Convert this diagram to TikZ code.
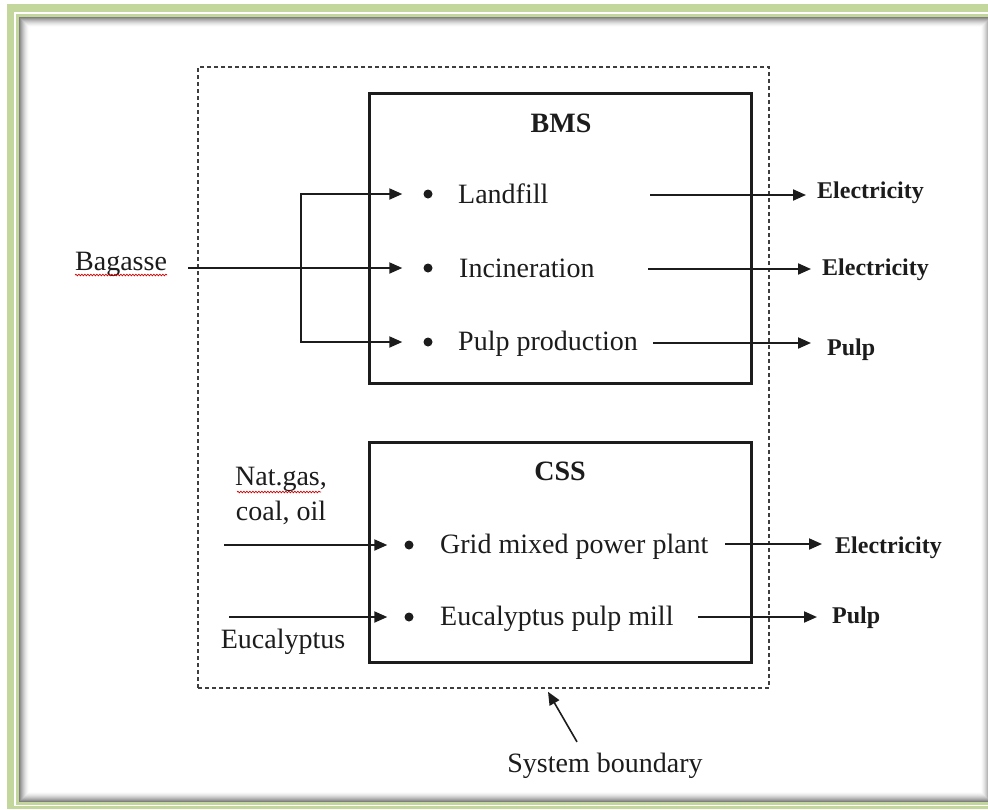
\documentclass[tikz,border=0pt]{standalone}
\usepackage{fontspec}
\setmainfont{Liberation Serif}
\usetikzlibrary{arrows.meta,decorations.pathmorphing}
\definecolor{frameg}{RGB}{195,214,155}
\definecolor{ink}{RGB}{28,28,28}
\begin{document}
\begin{tikzpicture}[x=1pt,y=-1pt,
  conn/.style={draw=ink, line width=2pt, -{Triangle[length=13pt,width=11pt]}},
  procbox/.style={draw=ink, line width=3pt, inner sep=0pt},
  bound/.style={draw=ink!85, line width=1.5pt, dash pattern=on 4pt off 3pt, inner sep=0pt},
  bul/.style={circle, fill=ink, inner sep=0pt, minimum size=9pt},
  lbl/.style={inner sep=0pt, anchor=base west, text=ink, font=\fontsize{28}{34}\selectfont},
  outlbl/.style={inner sep=0pt, anchor=base west, text=ink, font=\bfseries\fontsize{24}{28}\selectfont},
  ttl/.style={inner sep=0pt, anchor=base, text=ink, font=\bfseries\fontsize{28}{34}\selectfont},
  squig/.style={draw=red!80!black, line width=0.7pt, decorate, decoration={snake, amplitude=0.8pt, segment length=3pt}}
]
\useasboundingbox (0,0) rectangle (988,809);
\clip (0,0) rectangle (988,809);
\fill[white] (0,0) rectangle (988,809);
% frame (right side runs past the picture edge)
\fill[frameg] (7,4) rectangle (988,809);
\fill[white] (14,12) rectangle (988,806);
\fill[frameg] (16,14) rectangle (988,805);
\fill[white] (19,17) rectangle (988,802);
\foreach \i in {0,...,9}{
  \pgfmathsetmacro{\op}{0.5*(1-\i/10)^1.6}
  \draw[black, opacity=\op, line width=1pt] (19+\i+0.5,17+\i+0.5) rectangle (991-\i-0.5,802-\i-0.5);
}
% system boundary
\node[bound, minimum width=571pt, minimum height=621pt] (sys) at (483.5,377.5) {};
% process boxes
\node[procbox, minimum width=382pt, minimum height=290pt] (bms) at (560,238) {};
\node[procbox, minimum width=382pt, minimum height=220pt] (css) at (560,552) {};
\node[ttl] (bmst) at (561,132) {BMS};
\node[ttl] (csst) at (560,480) {CSS};
% BMS items
\node[bul] (b1) at (428,194) {};
\node[bul] (b2) at (428,268) {};
\node[bul] (b3) at (428,342) {};
\node[lbl] (l1) at (458,203) {Landfill};
\node[lbl] (l2) at (459,277) {Incineration};
\node[lbl] (l3) at (458,350) {Pulp production};
% CSS items
\node[bul] (c1) at (409,545) {};
\node[bul] (c2) at (409,617) {};
\node[lbl] (g1) at (440,553) {Grid mixed power plant};
\node[lbl] (g2) at (440,625) {Eucalyptus pulp mill};
% inputs
\node[lbl] (bag) at (75,270) {Bagasse};
\node[inner sep=0pt, align=center, text=ink, font=\fontsize{28}{35}\selectfont] (ngas) at (281,496) {Nat.gas,\\coal, oil};
\node[lbl, anchor=base] (euc) at (283,648) {Eucalyptus};
\draw[squig] ([yshift=-5pt]bag.base west) -- ([yshift=-5pt]bag.base east);
\draw[squig] (237,492) -- (321,492);
% outputs
\node[outlbl] (e1) at (817,198) {Electricity};
\node[outlbl] (e2) at (822,275) {Electricity};
\node[outlbl] (p1) at (827,355) {Pulp};
\node[outlbl] (e3) at (835,553) {Electricity};
\node[outlbl] (p2) at (832,623) {Pulp};
% bagasse connectors
\coordinate (jn) at (301,268);
\draw[conn, shorten >=21pt] (bag.east |- b2.west) ++(21,0) -- (b2.west);
\draw[conn, shorten >=21pt] (jn) |- (b1.west);
\draw[conn, shorten >=21pt] (jn) |- (b3.west);
% CSS input connectors
\coordinate (i1) at (224,545);
\coordinate (i2) at (229,617);
\draw[conn, shorten >=17pt] (i1) -- (c1.west);
\draw[conn, shorten >=17pt] (i2) -- (c2.west);
% output connectors
\coordinate (o1) at (650,195);
\coordinate (o2) at (648,269);
\coordinate (o3) at (653,343);
\coordinate (o4) at (725,544);
\coordinate (o5) at (698,617);
\draw[conn, shorten >=11pt] (o1) -- (o1 -| e1.west);
\draw[conn, shorten >=11pt] (o2) -- (o2 -| e2.west);
\draw[conn, shorten >=16pt] (o3) -- (o3 -| p1.west);
\draw[conn, shorten >=13pt] (o4) -- (o4 -| e3.west);
\draw[conn, shorten >=15pt] (o5) -- (o5 -| p2.west);
% system boundary label
\node[lbl, anchor=base] (sb) at (605,772) {System boundary};
\draw[conn, line width=1.6pt] ([shift={(-28pt,10.5pt)}]sb.north) -- ([xshift=64.5pt,yshift=-3pt]sys.south);
\end{tikzpicture}
\end{document}
